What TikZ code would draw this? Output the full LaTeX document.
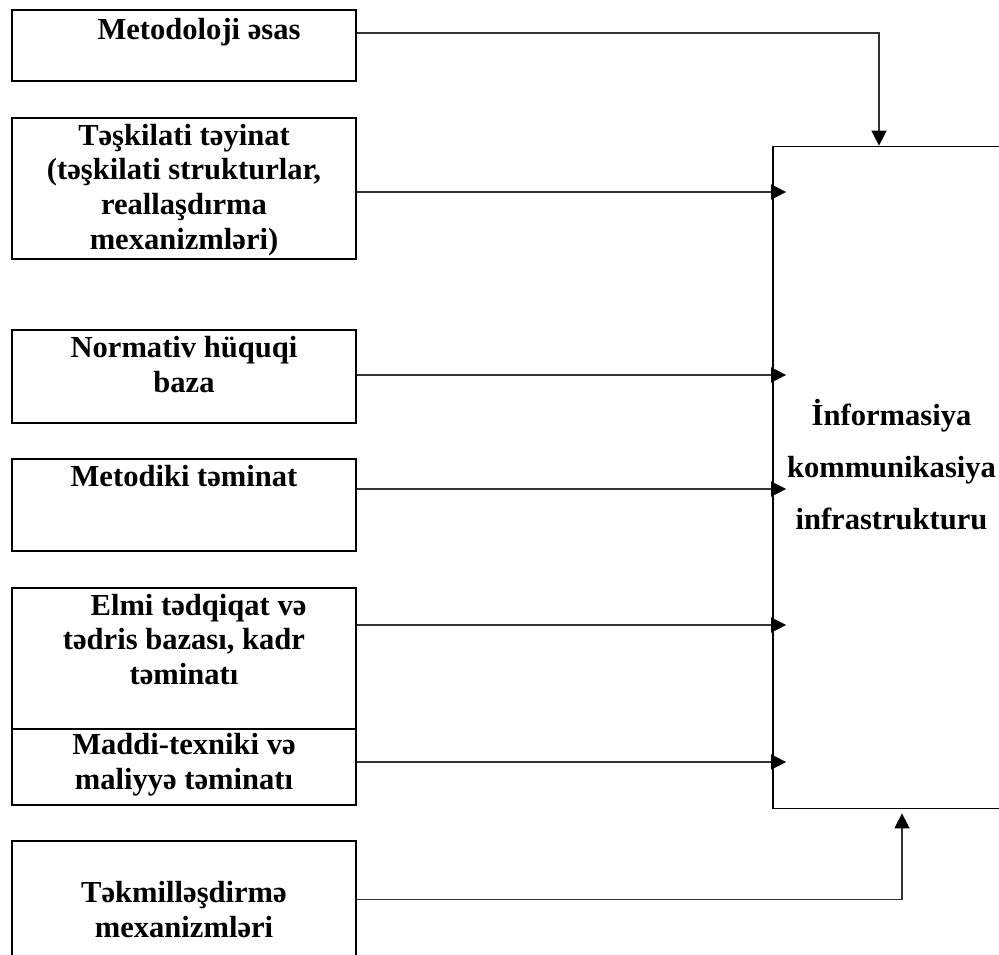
\documentclass[tikz,border=0pt]{standalone}
\usepackage{fontspec}
\setmainfont{Liberation Serif}
\usetikzlibrary{arrows.meta}
% invisible struts that set where the text sits in a box
\newcommand{\topgap}[1]{\rule{0pt}{#1}}
\newcommand{\botgap}[1]{\rule[-#1]{0pt}{0pt}}

\begin{document}
\begin{tikzpicture}[x=0.2mm, y=-0.2mm,
    box/.style={draw, line width=1pt, align=center, inner ysep=0pt, minimum width=68.8mm,
      font=\bfseries\fontsize{17.4}{19.9}\selectfont},
    link/.style={line width=0.9pt, black!80,
      -{Triangle[length=3mm, width=3mm, color=black]}}]
  \useasboundingbox (0,0) rectangle (999,954);
  % left column of boxes
  \node[box, minimum height=14.2mm] (metod)    at (184,45.5)  {\topgap{12.5pt}\hspace*{6mm}Metodoloji əsas\botgap{19.6pt}};
  \node[box, minimum height=28.2mm] (teskil)   at (184,188.5) {\topgap{14.8pt}Təşkilati təyinat\\(təşkilati strukturlar,\\reallaşdırma\\mexanizmləri)\botgap{4.6pt}};
  \node[box, minimum height=18.6mm] (normativ) at (184,376.5) {\topgap{12.5pt}Normativ hüquqi\\baza\botgap{14pt}};
  \node[box, minimum height=18.4mm] (metodik)  at (184,505)   {\topgap{12.5pt}Metodiki təminat\botgap{33.3pt}};
  \node[box, minimum height=28.2mm] (elmi)     at (184,658.5) {\topgap{12.5pt}\hspace*{5.8mm}Elmi tədqiqat və\\tədris bazası, kadr\\təminatı\botgap{22.2pt}};
  \node[box, minimum height=15.2mm] (maddi)    at (184,767)   {\topgap{12.5pt}Maddi-texniki və\\maliyyə təminatı\botgap{6.3pt}};
  \node[box, minimum height=28.8mm] (tekmil)   at (184,913)   {\topgap{12.5pt}Təkmilləşdirmə\\mexanizmləri\botgap{4.3pt}};
  % target box, cut by the right edge
  \node[box, minimum width=47.4mm, minimum height=132.4mm] (info) at (891.5,477.5)
    {\topgap{15.4pt}İnformasiya\\[9.7pt]kommunikasiya\\[9.7pt]infrastrukturu\botgap{15.9pt}};
  % connectors
  \draw[link] ([yshift=2.5mm]metod.east) -| ([xshift=-2.5mm]info.north);
  \foreach \n/\s in {teskil/-0.7mm, normativ/0.3mm, metodik/3.2mm, elmi/6.7mm, maddi/1mm}
    \draw[link, shorten >=-2.8mm] ([yshift=\s]\n.east) coordinate (from) -- (from -| info.west);
  \draw[link, shorten >=0.8mm] ([yshift=2.7mm]tekmil.east) -| ([xshift=2.1mm]info.south);
\end{tikzpicture}
\end{document}
